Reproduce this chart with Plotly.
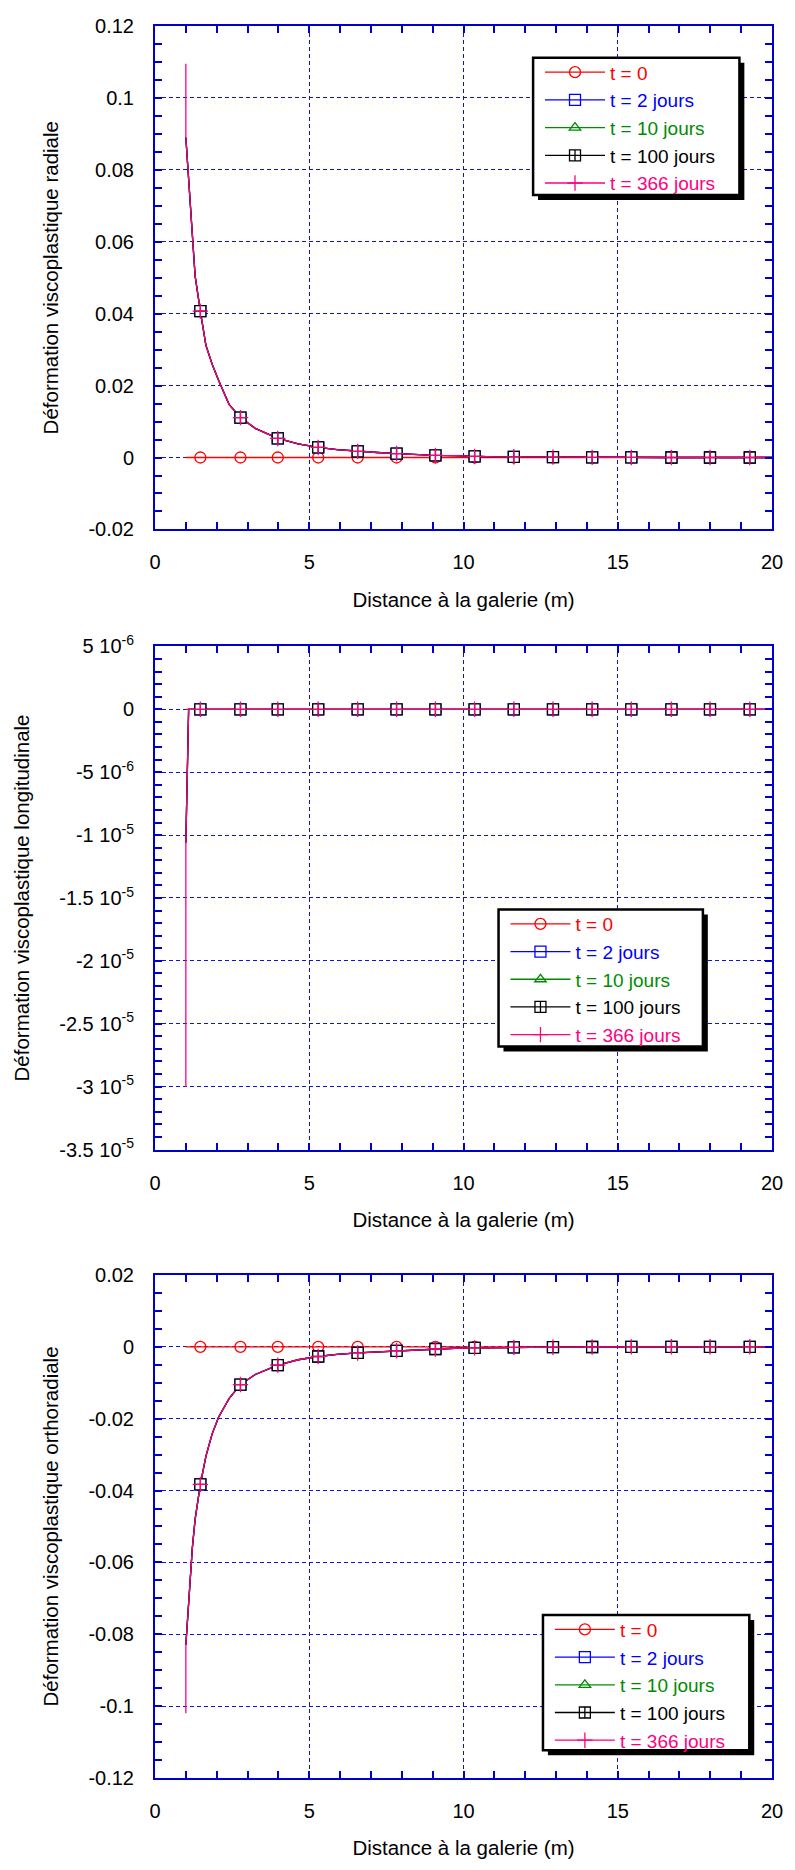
import plotly.graph_objects as go

# ---------------- data ----------------
series_names = ["t = 0", "t = 2 jours", "t = 10 jours", "t = 100 jours", "t = 366 jours"]

# distance to the gallery (m) for radial / orthoradial curves
dist = [1.0, 1.07, 1.14, 1.21, 1.30, 1.47, 1.65, 1.85, 2.06, 2.40, 2.77, 3.25, 3.98, 4.64,
        5.29, 5.90, 6.57, 7.20, 7.83, 8.45, 9.09, 9.72, 10.36, 11.0, 11.63, 12.9, 14.17,
        15.44, 16.74, 17.99, 19.28, 20.0]
# indices of dist where symbols are drawn
mark_idx = [5, 10, 12, 14, 16, 18, 20, 22, 24, 25, 26, 27, 28, 29, 30]

radial_t0 = [0.0] * 32
radial_t = [0.089, 0.080, 0.070, 0.060, 0.0505, 0.0407, 0.0312, 0.026, 0.0215, 0.0148,
            0.0111, 0.0081, 0.0053, 0.0038, 0.0028, 0.0022, 0.0017, 0.0014, 0.0011, 0.0008,
            0.0006, 0.0005, 0.0003, 0.0002, 0.0002, 0.0001, 0.00005, 0.00002, 0.0, 0.0, 0.0, 0.0]
radial_366_wall = 0.1095   # extra first value at the wall for t = 366 jours

ortho_t0 = [0.0] * 32
ortho_t = [-0.083, -0.074, -0.064, -0.056, -0.048, -0.0383, -0.0305, -0.0243, -0.0196, -0.0144,
           -0.0105, -0.0077, -0.0051, -0.0036, -0.0027, -0.0021, -0.0017, -0.0014, -0.0011,
           -0.0008, -0.0006, -0.0004, -0.0003, -0.0002, -0.00015, -0.0001, -0.00005, -0.00002,
           0.0, 0.0, 0.0, 0.0]
ortho_366_wall = -0.102

# longitudinal curve
dist_long = [1.0, 1.09, 1.47, 2.77, 3.98, 5.29, 6.57, 7.83, 9.09, 10.36, 11.63, 12.9, 14.17,
             15.44, 16.74, 17.99, 19.28, 20.0]
mark_idx_long = list(range(2, 17))
long_t0 = [0.0] * 18
long_t = [-1.06e-5] + [0.0] * 17
long_366_wall = -3.0e-5

# tick labels
y1_vals = [-0.02, 0, 0.02, 0.04, 0.06, 0.08, 0.1, 0.12]
y1_text = ["-0.02", "0", "0.02", "0.04", "0.06", "0.08", "0.1", "0.12"]
y2_vals = [-3.5e-5, -3e-5, -2.5e-5, -2e-5, -1.5e-5, -1e-5, -5e-6, 0, 5e-6]
y2_text = ["-3.5 10<sup>-5</sup>", "-3 10<sup>-5</sup>", "-2.5 10<sup>-5</sup>", "-2 10<sup>-5</sup>",
           "-1.5 10<sup>-5</sup>", "-1 10<sup>-5</sup>", "-5 10<sup>-6</sup>", "0", "5 10<sup>-6</sup>"]
y3_vals = [-0.12, -0.1, -0.08, -0.06, -0.04, -0.02, 0, 0.02]
y3_text = ["-0.12", "-0.1", "-0.08", "-0.06", "-0.04", "-0.02", "0", "0.02"]

# ---------------- styles ----------------
FONT = "Arial, 'Liberation Sans', sans-serif"
AX = "#0000CC"
GRID = "#1010E0"
colors = ["#FF0000", "#0000FF", "#008C00", "#000000", "#FF0080"]
symbols = ["circle-open", "square-open", "triangle-up-open", "square-cross", "cross-thin"]
mfill = ["#FF0000", "#0000FF", "#008C00", "#FFFFFF", "#FF0080"]
msize = [11, 11, 10, 11, 11]

fig = go.Figure()


def add_panel(xa, ya, legend, xs, curves, midx):
    for k, (cx, cy) in enumerate(curves):
        fig.add_trace(go.Scatter(x=cx, y=cy, mode="lines", xaxis=xa, yaxis=ya,
                                 line=dict(color=colors[k], width=1.3),
                                 showlegend=False, hoverinfo="skip"))
    for k, (cx, cy) in enumerate(curves):
        off = len(cx) - len(xs)
        mx = [cx[i + off] for i in midx]
        my = [cy[i + off] for i in midx]
        fig.add_trace(go.Scatter(x=mx, y=my, mode="markers", xaxis=xa, yaxis=ya,
                                 marker=dict(symbol=symbols[k], size=msize[k], color=mfill[k],
                                             line=dict(color=colors[k], width=1.3)),
                                 showlegend=False, hoverinfo="skip"))
    for k in range(5):
        fig.add_trace(go.Scatter(x=[None], y=[None], mode="lines+markers", xaxis=xa, yaxis=ya,
                                 name='<span style="color:%s">%s</span>' % (colors[k], series_names[k]),
                                 line=dict(color=colors[k], width=1.3),
                                 marker=dict(symbol=symbols[k], size=msize[k], color=mfill[k],
                                             line=dict(color=colors[k], width=1.3)),
                                 legend=legend, showlegend=True))


add_panel("x", "y", "legend", dist,
          [(dist, radial_t0), (dist, radial_t), (dist, radial_t), (dist, radial_t),
           ([dist[0]] + dist, [radial_366_wall] + radial_t)], mark_idx)
add_panel("x2", "y2", "legend2", dist_long,
          [(dist_long, long_t0), (dist_long, long_t), (dist_long, long_t), (dist_long, long_t),
           ([dist_long[0]] + dist_long, [long_366_wall] + long_t)], mark_idx_long)
add_panel("x3", "y3", "legend3", dist,
          [(dist, ortho_t0), (dist, ortho_t), (dist, ortho_t), (dist, ortho_t),
           ([dist[0]] + dist, [ortho_366_wall] + ortho_t)], mark_idx)

W, H = 795, 1870
ML, MR, MT, MB = 155, 15, 15, 92
PH = H - MT - MB
PW = W - ML - MR


def py(Y):
    return (H - MB - Y) / PH


def px(X):
    return (X - ML) / PW


dom1 = [py(521.6), 1.0]
dom2 = [py(1145.6), py(639.3)]
dom3 = [0.0, py(1271.8)]


def xaxis_cfg(anchor):
    return dict(anchor=anchor, range=[0, 20], tickmode="linear", tick0=0, dtick=5,
                ticks="inside", ticklen=7, tickwidth=1.5, tickcolor=AX,
                minor=dict(tickmode="linear", tick0=0, dtick=1, ticks="inside", ticklen=7,
                           tickwidth=1.5, tickcolor=AX, showgrid=False),
                showline=True, linecolor=AX, linewidth=2, mirror="allticks",
                showgrid=True, gridcolor=GRID, gridwidth=1, griddash="4px,3px",
                zeroline=False, ticklabelstandoff=14,
                tickfont=dict(family=FONT, size=20, color="black"),
                title=dict(text="Distance à la galerie (m)", standoff=20,
                           font=dict(family=FONT, size=20.5, color="black")))


def yaxis_cfg(anchor, dom, rng, vals, text, mdt, title, standoff):
    return dict(anchor=anchor, domain=dom, range=rng, tickmode="array", tickvals=vals,
                ticktext=text, ticks="inside", ticklen=7, tickwidth=1.5, tickcolor=AX,
                minor=dict(tickmode="linear", tick0=0, dtick=mdt, ticks="inside", ticklen=7,
                           tickwidth=1.5, tickcolor=AX, showgrid=False),
                showline=True, linecolor=AX, linewidth=2, mirror="allticks",
                showgrid=True, gridcolor=GRID, gridwidth=1, griddash="4px,3px",
                zeroline=False, ticklabelstandoff=15,
                tickfont=dict(family=FONT, size=20, color="black"),
                title=dict(text=title, standoff=standoff,
                           font=dict(family=FONT, size=20.5, color="black")))


# legend boxes (left, top, right, bottom) in page pixels
leg_boxes = [(538, 47, 747, 185), (503, 904, 710, 1042), (548, 1614, 757, 1750)]


def legend_cfg(box):
    x0, y0, x1, y1 = box
    return dict(x=px(x0 + 7), y=py(y0 - 4.5), xanchor="left", yanchor="top",
                bgcolor="rgba(0,0,0,0)", borderwidth=0, itemwidth=60,
                font=dict(family=FONT, size=19, color="black"), tracegroupgap=0)


shapes = []
for (x0, y0, x1, y1) in leg_boxes:
    shapes.append(dict(type="rect", xref="paper", yref="paper",
                       x0=px(x0 + 5), x1=px(x1 + 5), y0=py(y1 + 5), y1=py(y0 + 5),
                       fillcolor="black", line=dict(width=0), layer="above"))
    shapes.append(dict(type="rect", xref="paper", yref="paper",
                       x0=px(x0), x1=px(x1), y0=py(y1), y1=py(y0),
                       fillcolor="white", line=dict(color="black", width=2.5), layer="above"))

fig.update_layout(
    width=W, height=H,
    margin=dict(l=ML, r=MR, t=MT, b=MB),
    paper_bgcolor="white", plot_bgcolor="white",
    font=dict(family=FONT, size=20, color="black"),
    xaxis=xaxis_cfg("y"), xaxis2=xaxis_cfg("y2"), xaxis3=xaxis_cfg("y3"),
    yaxis=yaxis_cfg("x", dom1, [-0.02, 0.12], y1_vals, y1_text, 0.005,
                    "Déformation viscoplastique radiale", 24),
    yaxis2=yaxis_cfg("x2", dom2, [-3.5e-5, 5e-6], y2_vals, y2_text, 1e-6,
                     "Déformation viscoplastique longitudinale", 24),
    yaxis3=yaxis_cfg("x3", dom3, [-0.12, 0.02], y3_vals, y3_text, 0.005,
                     "Déformation viscoplastique orthoradiale", 24),
    legend=legend_cfg(leg_boxes[0]), legend2=legend_cfg(leg_boxes[1]),
    legend3=legend_cfg(leg_boxes[2]),
    shapes=shapes,
    showlegend=True,
)

fig.write_html("out.html", config={"displayModeBar": False},
               post_script="document.body.style.margin='0';document.body.style.overflow='hidden';")
